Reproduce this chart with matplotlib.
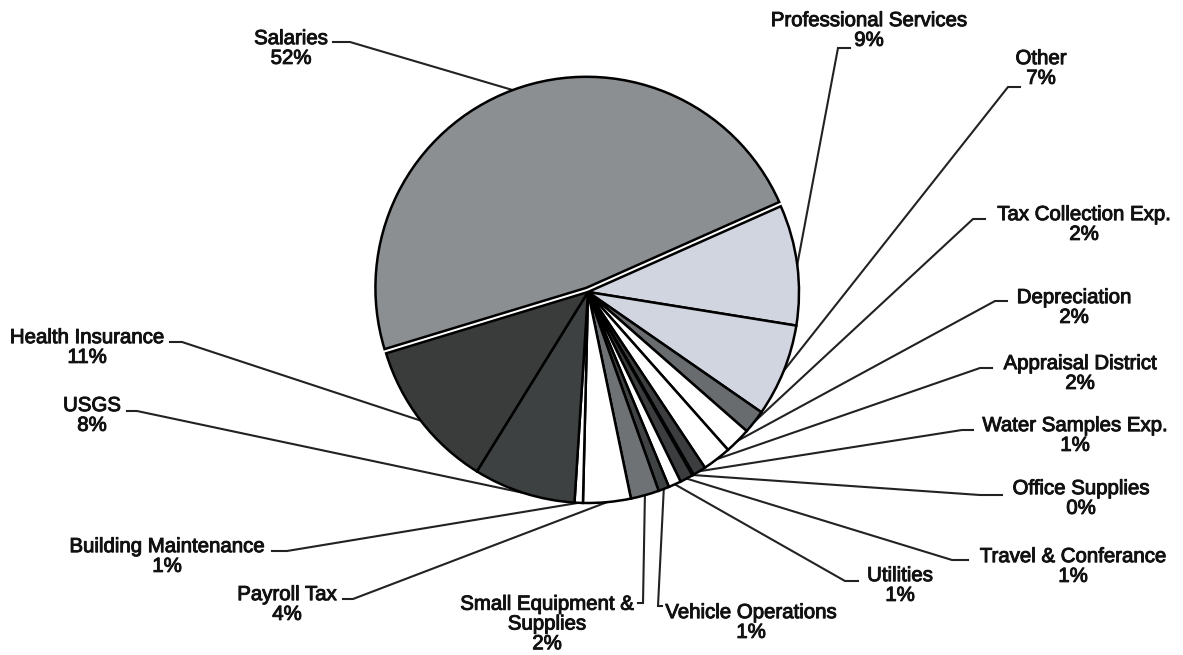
import matplotlib
matplotlib.use("Agg")
import matplotlib.pyplot as plt
import matplotlib.patheffects as pe
import numpy as np

# ---------------- data ----------------
categories = ["Salaries", "Professional Services", "Other", "Tax Collection Exp.",
              "Depreciation", "Appraisal District", "Water Samples Exp.",
              "Office Supplies", "Travel & Conferance", "Utilities",
              "Vehicle Operations", "Small Equipment &\nSupplies", "Payroll Tax",
              "Building Maintenance", "USGS", "Health Insurance"]
# slice shares
shares = [48.0, 9.2, 7.1, 1.8, 2.0, 2.2, 1.0, 0.11, 1.0, 0.97, 0.83, 2.17,
          3.64, 0.64, 7.8, 11.47]
# percentages printed on the chart
pct_labels = ["52%", "9%", "7%", "2%", "2%", "2%", "1%", "0%", "1%", "1%",
              "1%", "2%", "4%", "1%", "8%", "11%"]

# ---------------- styles / layout ----------------
colors = ["#8c8f92", "#d0d5df", "#d0d5df", "#696c6e", "white", "white",
          "#3b3d3e", "#666a6c", "#3b3d3e", "white", "#404344", "#6e7275",
          "white", "white", "#3e4142", "#3a3c3c"]
explode = [4.5] + [0] * 15

W, H = 1183, 655
CX, CY, R = 588, 292, 211          # pie centre / radius in image pixels
START = 196.9

# label block centres (image px)
label_xy = [(291, 48.5), (869, 30.5), (1041, 68.5), (1084, 224.5),
            (1074, 307.5), (1080, 373.5), (1075, 435.5), (1081, 498.5),
            (1073, 566.5), (900, 585.5), (751, 622.5), (547, 624),
            (287, 604.5), (167, 556.5), (92, 415.5), (87, 347.5)]
# leader start: (x at text, y, x at end of short horizontal)
leader_seg = [(333, 42, 350), (850, 48, 838), (1020, 87, 1008), (985, 219, 973),
              (1007, 301, 995), (992, 368, 980), (973, 430, 962), (1002, 495, 980),
              (968, 560, 952), (858, 581, 845), (662, 606, 658), (638, 603, 643),
              (343, 599, 353), (272, 551, 287), (127, 411, 137), (170, 342, 182)]

fig = plt.figure(figsize=(W / 100, H / 100), dpi=100)
ax = fig.add_axes([0, 0, 1, 1])

wedges, _ = ax.pie(shares, colors=colors, startangle=START, counterclock=False,
                   center=(CX, H - CY), radius=R, explode=explode, frame=False,
                   wedgeprops=dict(edgecolor="black", linewidth=1.8,
                                   joinstyle="miter"))
for w in wedges:
    w.set_zorder(3)

ax.set_xlim(0, W)
ax.set_ylim(0, H)
ax.set_aspect("equal")
ax.axis("off")

for w, (x0, y0, x1) in zip(wedges, leader_seg):
    tm = np.deg2rad((w.theta1 + w.theta2) / 2)
    px = w.center[0] + w.r * np.cos(tm)
    py = w.center[1] + w.r * np.sin(tm)
    ax.plot([x0, x1, px], [H - y0, H - y0, py], color="#222222", lw=1.5,
            solid_joinstyle="miter", zorder=2)

heavy = [pe.withStroke(linewidth=0.7, foreground="#111111")]
for name, pct, (x, y) in zip(categories, pct_labels, label_xy):
    ax.text(x, H - y, f"{name}\n{pct}", ha="center", va="center",
            multialignment="center", fontsize=14.7, family="Liberation Sans",
            linespacing=1.05, color="#111111", zorder=4, path_effects=heavy)

fig.savefig("out.png", dpi=100)
